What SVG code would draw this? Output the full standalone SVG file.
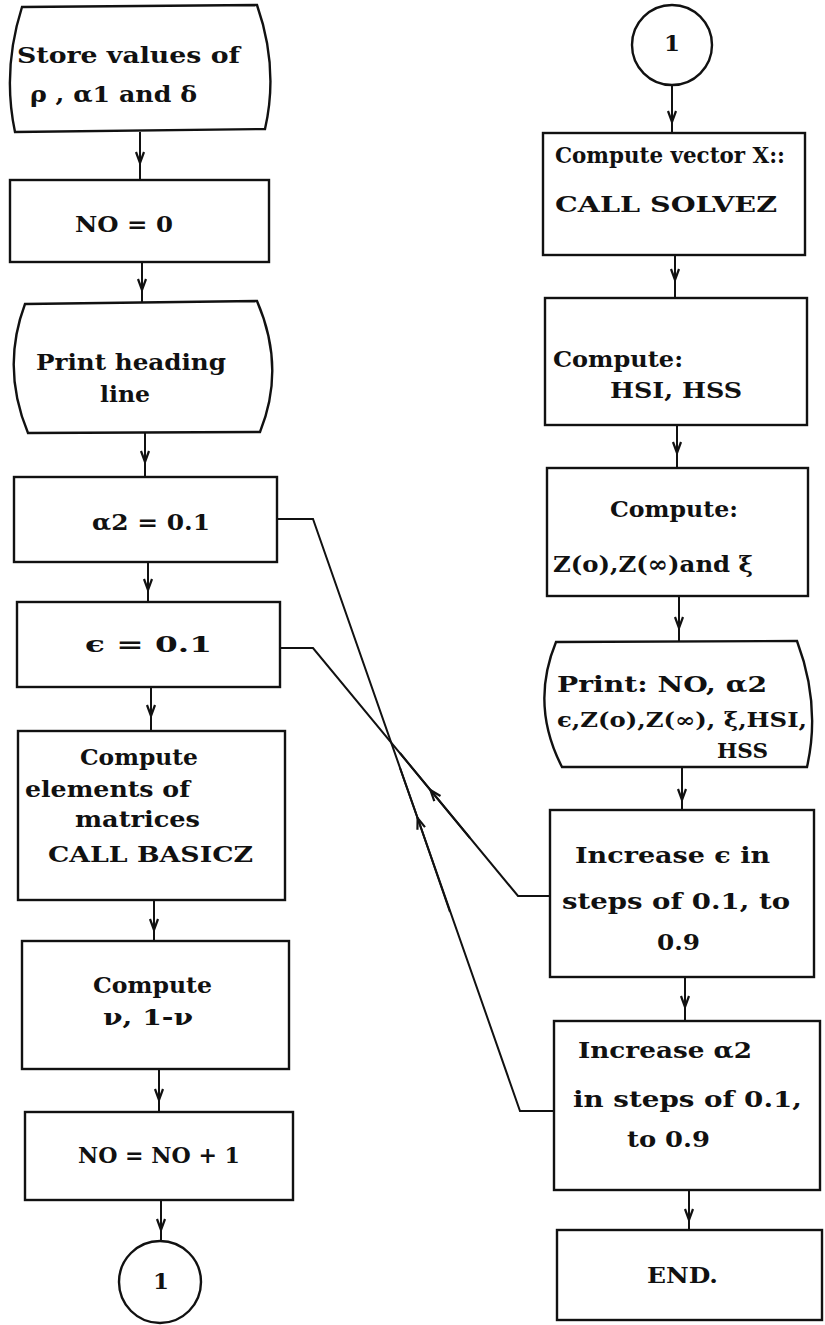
<svg xmlns="http://www.w3.org/2000/svg" width="825" height="1325" viewBox="0 0 825 1325">
<style>
.n{fill:#fff;stroke:#111;stroke-width:2.4}
.c{fill:none;stroke:#111;stroke-width:2}
text{font-family:"DejaVu Serif","Liberation Serif",serif;font-weight:bold;font-size:23px;fill:#111}
.m{text-anchor:middle}
.s{font-size:20px}
</style>
<defs>
<marker id="ah" markerUnits="userSpaceOnUse" markerWidth="14" markerHeight="12" viewBox="-12 -6 14 12" refX="0" refY="0" orient="auto">
<path d="M-11,-4 L0,0 L-11,4" fill="none" stroke="#111" stroke-width="2.2"/>
</marker>
</defs>
<rect width="825" height="1325" fill="#fff"/>
<g id="connectors">
<path class="c" marker-mid="url(#ah)" d="M140,132 L140,163 L140,180"/>
<path class="c" marker-mid="url(#ah)" d="M142,262 L142,290 L142,303"/>
<path class="c" marker-mid="url(#ah)" d="M145,433 L145,462 L145,477"/>
<path class="c" marker-mid="url(#ah)" d="M148,562 L148,590 L148,602"/>
<path class="c" marker-mid="url(#ah)" d="M151,687 L151,716 L151,731"/>
<path class="c" marker-mid="url(#ah)" d="M154,900 L154,930 L154,941"/>
<path class="c" marker-mid="url(#ah)" d="M159,1069 L159,1100 L159,1112"/>
<path class="c" marker-mid="url(#ah)" d="M161,1200 L161,1230 L161,1241"/>
<path class="c" marker-mid="url(#ah)" d="M672,86 L672,122 L672,133"/>
<path class="c" marker-mid="url(#ah)" d="M675,255 L675,280 L675,298"/>
<path class="c" marker-mid="url(#ah)" d="M677,425 L677,453 L677,468"/>
<path class="c" marker-mid="url(#ah)" d="M679,596 L679,628 L679,642"/>
<path class="c" marker-mid="url(#ah)" d="M682,767 L682,800 L682,810"/>
<path class="c" marker-mid="url(#ah)" d="M685,977 L685,1007 L685,1021"/>
<path class="c" marker-mid="url(#ah)" d="M689,1190 L689,1220 L689,1230"/>
<path class="c" d="M554,1111 L520,1111 L313,519 L277,519"/>
<path class="c" marker-mid="url(#ah)" d="M450,912 L417.6,818 L400,768"/>
<path class="c" d="M550,896 L518,896 L313,648 L280,648"/>
<path class="c" marker-mid="url(#ah)" d="M470,838 L430.4,790 L400,753"/>
</g>
<g id="store">
<path class="n" d="M22,7 L257,5 Q279,68 265,129 L15,132 Q2,70 22,7 Z"/>
<text x="17" y="63" textLength="223" lengthAdjust="spacingAndGlyphs">Store values of</text>
<text x="30" y="102" textLength="167" lengthAdjust="spacingAndGlyphs">ρ , α1 and δ</text>
</g>
<g id="no0">
<rect class="n" x="10" y="180" width="259" height="82"/>
<text x="75" y="232" textLength="98" lengthAdjust="spacingAndGlyphs">NO =  0</text>
</g>
<g id="printhead">
<path class="n" d="M25,304 L257,301 Q286,368 260,432 L28,433 Q1,368 25,304 Z"/>
<text x="36" y="370" textLength="190" lengthAdjust="spacingAndGlyphs">Print heading</text>
<text x="100" y="402" textLength="50" lengthAdjust="spacingAndGlyphs">line</text>
</g>
<g id="a2init">
<rect class="n" x="14" y="477" width="263" height="85"/>
<text x="92" y="530" textLength="118" lengthAdjust="spacingAndGlyphs">α2 = 0.1</text>
</g>
<g id="epsinit">
<rect class="n" x="17" y="602" width="263" height="85"/>
<text x="85" y="652" textLength="127" lengthAdjust="spacingAndGlyphs">ϵ  =  0.1</text>
</g>
<g id="basicz">
<rect class="n" x="18" y="731" width="267" height="169"/>
<text x="80" y="765" textLength="118" lengthAdjust="spacingAndGlyphs">Compute</text>
<text x="25" y="797" textLength="165" lengthAdjust="spacingAndGlyphs">elements of</text>
<text x="75" y="827" textLength="125" lengthAdjust="spacingAndGlyphs">matrices</text>
<text x="48" y="862" textLength="205" lengthAdjust="spacingAndGlyphs">CALL BASICZ</text>
</g>
<g id="nu">
<rect class="n" x="22" y="941" width="267" height="128"/>
<text x="93" y="993" textLength="119" lengthAdjust="spacingAndGlyphs">Compute</text>
<text x="103" y="1025" textLength="90" lengthAdjust="spacingAndGlyphs">ν,  1-ν</text>
</g>
<g id="noinc">
<rect class="n" x="25" y="1112" width="268" height="88"/>
<text x="78" y="1163" textLength="162" lengthAdjust="spacingAndGlyphs">NO = NO + 1</text>
</g>
<g id="conn1a">
<circle class="n" cx="160" cy="1282" r="41"/>
<text class="m" x="161" y="1289">1</text>
</g>
<g id="conn1b">
<circle class="n" cx="672" cy="45" r="40"/>
<text class="m" x="672" y="51">1</text>
</g>
<g id="solvez">
<rect class="n" x="543" y="133" width="262" height="122"/>
<text x="555" y="163" textLength="230" lengthAdjust="spacingAndGlyphs">Compute vector X::</text>
<text x="555" y="212" textLength="222" lengthAdjust="spacingAndGlyphs">CALL SOLVEZ</text>
</g>
<g id="hsi">
<rect class="n" x="545" y="298" width="262" height="127"/>
<text x="553" y="367" textLength="130" lengthAdjust="spacingAndGlyphs">Compute:</text>
<text x="610" y="398" textLength="132" lengthAdjust="spacingAndGlyphs">HSI, HSS</text>
</g>
<g id="zxi">
<rect class="n" x="547" y="468" width="261" height="128"/>
<text x="610" y="517" textLength="128" lengthAdjust="spacingAndGlyphs">Compute:</text>
<text x="553" y="572" textLength="200" lengthAdjust="spacingAndGlyphs">Z(o),Z(∞)and ξ</text>
</g>
<g id="printres">
<path class="n" d="M556,642 L797,641 Q821,705 807,767 L562,767 Q530,705 556,642 Z"/>
<text x="557" y="692" textLength="210" lengthAdjust="spacingAndGlyphs">Print:  NO,  α2</text>
<text class="s" x="557" y="727" textLength="250" lengthAdjust="spacingAndGlyphs">ϵ,Z(o),Z(∞), ξ,HSI,</text>
<text class="s" x="717" y="758" textLength="51" lengthAdjust="spacingAndGlyphs">HSS</text>
</g>
<g id="inceps">
<rect class="n" x="550" y="810" width="264" height="167"/>
<text x="575" y="863" textLength="195" lengthAdjust="spacingAndGlyphs">Increase  ϵ in</text>
<text x="562" y="909" textLength="228" lengthAdjust="spacingAndGlyphs">steps of  0.1,  to</text>
<text x="657" y="950" textLength="43" lengthAdjust="spacingAndGlyphs">0.9</text>
</g>
<g id="inca2">
<rect class="n" x="554" y="1021" width="266" height="169"/>
<text x="578" y="1058" textLength="174" lengthAdjust="spacingAndGlyphs">Increase  α2</text>
<text x="573" y="1107" textLength="229" lengthAdjust="spacingAndGlyphs">in steps of  0.1,</text>
<text x="627" y="1147" textLength="83" lengthAdjust="spacingAndGlyphs">to 0.9</text>
</g>
<g id="end">
<rect class="n" x="557" y="1230" width="265" height="90"/>
<text x="647" y="1283" textLength="71" lengthAdjust="spacingAndGlyphs">END.</text>
</g>
</svg>
